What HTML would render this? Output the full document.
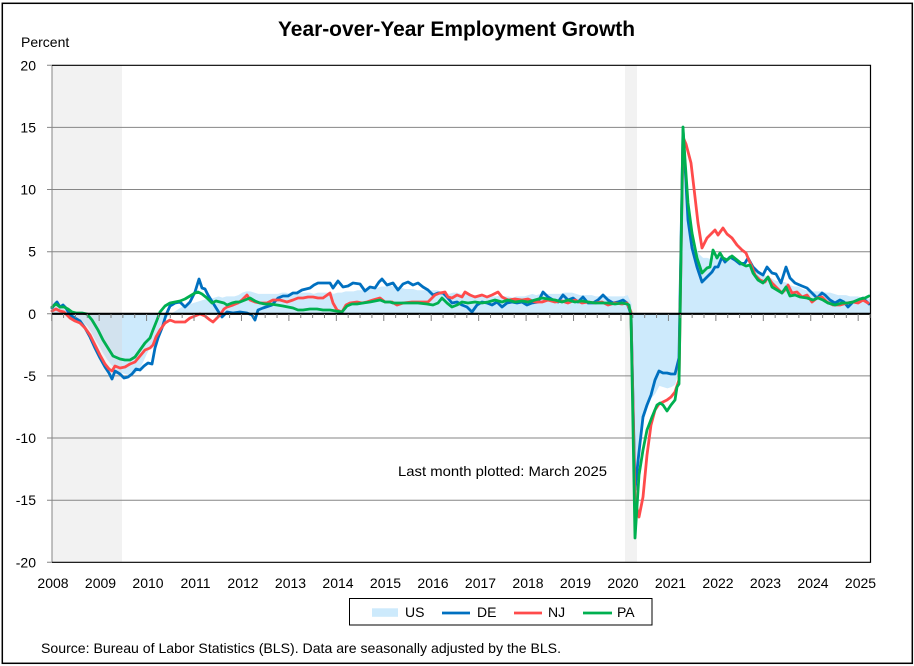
<!DOCTYPE html>
<html>
<head>
<meta charset="utf-8">
<style>
html,body{margin:0;padding:0;background:#fff;}
svg{display:block;}
text{font-family:"Liberation Sans", sans-serif;fill:#000;}
</style>
</head>
<body>
<svg width="914" height="666" viewBox="0 0 914 666" xmlns="http://www.w3.org/2000/svg">
<defs>
<clipPath id="band1"><rect x="52" y="65" width="70" height="498"/></clipPath>
</defs>
<rect x="0" y="0" width="914" height="666" fill="#fff"/>
<rect x="2.3" y="3.3" width="910" height="660" fill="none" stroke="#000" stroke-width="1.5"/>

<!-- recession bands -->
<rect x="52" y="65.3" width="70" height="497" fill="#f2f2f2"/>
<rect x="625" y="65.3" width="12" height="497" fill="#f2f2f2"/>

<!-- gridlines -->
<g stroke="#868686" stroke-width="1" fill="none">
<path d="M47 127.4H870 M47 189.55H870 M47 251.7H870 M47 375.9H870 M47 438.05H870 M47 500.2H870"/>
<path d="M47 65.3H52 M47 313.8H52 M47 562.3H52"/>
</g>

<!-- US area -->
<g transform="translate(51.7,313.8) scale(3.972,-12.425)">
<polygon id="usarea" fill="#cdeafc" points="0,0 0,0.8 1,0.6 2,0.5 3,0.4 4,0.2 5,0 6,-0.2 7,-0.4 8,-0.7 9,-1 10,-1.5 11,-2.1 12,-2.6 13,-3.2 14,-3.7 15,-4.1 16,-4.4 17,-4.7 18,-4.8 19,-4.9 20,-5 21,-4.8 22,-4.5 23,-3.9 24,-3.2 25,-2.6 26,-1.9 27,-1.2 28,-0.6 29,-0.3 30,0 31,0.2 32,0.4 33,0.6 34,0.7 35,0.8 36,0.9 37,1 38,1.1 39,1.2 40,1.2 41,1.3 42,1.4 43,1.3 44,1.4 45,1.4 46,1.4 47,1.5 48,1.7 49,1.8 50,1.8 51,1.7 52,1.6 53,1.6 54,1.6 55,1.6 56,1.6 57,1.6 58,1.7 59,1.7 60,1.6 61,1.7 62,1.6 63,1.7 64,1.7 65,1.7 66,1.6 67,1.7 68,1.7 69,1.7 70,1.7 71,1.6 72,1.7 73,1.7 74,1.8 75,1.8 76,1.8 77,1.9 78,1.9 79,1.9 80,2 81,2 82,2.1 83,2.2 84,2.2 85,2.3 86,2.2 87,2.1 88,2.1 89,2 90,2 91,2 92,1.9 93,1.9 94,1.9 95,1.9 96,1.9 97,1.9 98,1.8 99,1.7 100,1.6 101,1.7 102,1.7 103,1.6 104,1.6 105,1.6 106,1.5 107,1.5 108,1.6 109,1.5 110,1.4 111,1.4 112,1.4 113,1.5 114,1.4 115,1.4 116,1.3 117,1.4 118,1.4 119,1.4 120,1.5 121,1.6 122,1.5 123,1.6 124,1.6 125,1.6 126,1.6 127,1.6 128,1.6 129,1.7 130,1.7 131,1.7 132,1.6 133,1.5 134,1.5 135,1.5 136,1.5 137,1.4 138,1.4 139,1.4 140,1.4 141,1.4 142,1.4 143,1.4 144,1.4 145,1.5 146,0.8 147,-13 148,-11.2 149,-8.6 150,-7.6 151,-6.8 152,-6.4 153,-5.8 154,-5.9 155,-6 156,-5.9 157,-5.7 158,-4.4 159,10.9 160,9.2 161,6 162,5.4 163,4.8 164,4.5 165,4.5 166,4.4 167,4.6 168,4.6 169,4.6 170,4.5 171,4.4 172,4.3 173,4.2 174,4 175,3.8 176,3.7 177,3.5 178,3.4 179,3.2 180,3 181,2.9 182,2.7 183,2.6 184,2.6 185,2.5 186,2.3 187,2.2 188,2.2 189,2 190,1.9 191,1.8 192,1.8 193,1.8 194,1.8 195,1.7 196,1.7 197,1.6 198,1.5 199,1.5 200,1.5 201,1.4 202,1.4 203,1.4 204,1.3 205,1.3 206,1.2 206,0"/>
</g>
<g clip-path="url(#band1)">
<g transform="translate(51.7,313.8) scale(3.972,-12.425)">
<polygon fill="#d2e2ee" points="0,0 0,0.8 1,0.6 2,0.5 3,0.4 4,0.2 5,0 6,-0.2 7,-0.4 8,-0.7 9,-1 10,-1.5 11,-2.1 12,-2.6 13,-3.2 14,-3.7 15,-4.1 16,-4.4 17,-4.7 18,-4.8 19,-4.9 20,-5 21,-4.8 22,-4.5 23,-3.9 24,-3.2 24,0"/>
</g>
</g>

<!-- series -->
<g fill="none" stroke-width="2.8" stroke-linejoin="round" stroke-linecap="round">
<polyline stroke="#0070c0" points="52,308 55,304 57,302 60,307 63,305 66,308 70,315 75,318 80,321 85,328 90,337 95,348 100,358 105,367 109,373 112,379 115,371 120,374 124,378 128,377 132,374 136,369 140,370 144,366 148,363 152,364 155,348 158,338 162,328 166,315 170,306 175,303 180,302 185,307 190,302 195,292 199,279 202,288 205,289 208,295 213,303 218,311 222,317 227,312 233,313 240,312 247,313 252,315 255,320 258,310 263,308 272,305 278,298 283,296 288,296 293,293 297,293 302,290 306,289 310,288 314,285 318,283 324,283 330,283 333,288 338,281 343,287 348,286 353,283 360,284 365,291 370,287 375,288 379,282 382,279 387,285 393,283 398,290 403,284 408,282 413,285 418,283 423,287 428,290 433,295 438,293 443,293 447,297 452,303 457,302 462,305 467,307 472,312 477,305 482,302 487,303 492,305 497,302 502,307 507,303 512,302 517,303 522,302 527,305 532,303 538,302 543,292 548,297 553,300 558,302 563,295 568,300 573,298 578,302 583,297 588,303 593,303 598,300 603,295 608,300 613,303 618,302 623,300 627,303 631,314 635,490 639,452 643,417 647,405 651,395 655,380 659,371 663,373 667,373 671,374 675,374 679,358 683,130 685,165 688,220 692,248 697,267 702,282 707,277 712,272 715,267 718,267 722,257 725,262 730,257 735,260 740,264 745,263 748,258 753,267 758,272 763,275 767,267 772,273 776,274 781,283 786,267 790,278 795,283 802,286 807,288 812,293 817,298 822,293 825,295 830,300 835,303 840,300 844,302 848,307 853,302 858,300 863,298 869,304"/>
<polyline stroke="#ff4b4b" points="52,311 56,309 60,311 64,312 70,318 75,321 80,323 85,328 90,335 95,345 100,355 105,364 109,369 112,371 115,366 120,368 125,367 130,364 135,362 140,356 145,350 150,348 153,345 156,337 160,330 165,323 170,320 175,322 180,322 185,322 190,318 195,316 200,314 205,316 210,320 213,322 217,318 220,315 224,309 227,307 233,305 238,303 242,300 247,295 250,300 255,302 260,303 267,303 273,300 280,300 287,302 293,300 298,298 303,298 308,297 313,297 318,298 323,298 330,293 333,303 337,310 342,312 346,305 350,303 357,302 362,303 367,302 373,300 380,298 385,302 392,302 397,305 403,303 412,302 420,302 428,302 435,295 440,293 445,292 448,297 452,298 457,295 462,297 465,292 470,295 475,297 482,295 487,297 492,295 498,292 502,297 508,300 515,299 522,300 528,299 535,302 542,302 548,300 555,302 562,301 568,303 575,300 582,303 588,302 595,303 602,302 608,305 615,303 622,304 627,303 631,312 635,500 639,517 643,497 647,455 651,425 655,410 659,404 663,402 667,400 671,397 675,392 679,380 683,137 686,144 691,163 695,197 698,223 702,248 707,238 712,233 715,230 718,235 723,228 727,234 732,238 737,245 742,250 746,253 748,258 752,267 755,275 760,280 765,282 768,277 772,283 777,288 782,293 785,290 788,285 792,293 797,292 802,297 807,295 812,302 817,298 822,297 827,302 833,305 840,305 847,303 853,302 858,303 863,300 868,303"/>
<polyline stroke="#00b050" points="52,307 56,304 60,307 64,307 68,309 72,312 76,313 82,313 87,314 92,320 98,330 103,340 108,348 113,356 120,359 125,360 130,360 135,357 140,350 145,343 150,338 153,330 157,320 160,312 165,306 170,303 175,302 180,301 185,299 190,296 195,293 198,292 202,294 207,298 212,303 216,301 220,302 224,303 227,305 232,303 236,302 240,302 245,300 250,298 255,301 260,303 265,304 270,304 277,305 283,306 288,307 293,308 298,310 303,310 310,309 317,309 323,310 330,310 336,311 342,312 347,306 352,304 357,304 363,303 370,302 375,301 380,300 385,302 390,302 393,303 400,303 408,303 418,303 427,304 433,305 438,303 442,298 447,303 452,307 457,305 462,302 468,303 475,302 482,303 488,302 495,300 502,302 508,300 515,302 522,301 528,302 535,300 542,298 548,299 555,300 562,302 568,300 575,302 582,301 588,302 595,303 602,303 608,303 615,304 622,303 627,304 629,305 631,316 635,538 639,475 643,450 647,430 652,417 657,405 660,403 663,405 667,411 671,405 675,400 677,387 679,384 683,127 685,160 688,203 692,233 697,258 702,273 707,268 710,267 713,250 717,258 720,253 723,258 727,260 732,256 737,260 742,264 746,266 750,265 753,273 758,280 763,283 768,277 772,287 777,290 782,293 786,287 790,296 795,295 800,297 807,298 813,300 818,298 823,300 828,303 835,305 842,303 848,303 853,302 860,299 865,298 869,296"/>
</g>

<!-- axes and frame -->
<path d="M52 65.3V562.3" stroke="#868686" stroke-width="1" fill="none"/>
<path d="M52 65.3H870.5V562.3H52" stroke="#000" stroke-width="1.2" fill="none"/>
<path d="M52 313.8H870.5" stroke="#000" stroke-width="2.2" fill="none"/>
<path stroke="#7f7f7f" stroke-width="1" fill="none" d="M51.7 314v7 M99.14 314v7 M146.58 314v7 M194.02 314v7 M241.46 314v7 M288.9 314v7 M336.34 314v7 M383.78 314v7 M431.22 314v7 M478.66 314v7 M526.1 314v7 M573.54 314v7 M620.98 314v7 M668.42 314v7 M715.86 314v7 M763.3 314v7 M810.74 314v7 M858.18 314v7
M63.56 314v4 M75.42 314v4 M87.28 314v4 M111 314v4 M122.86 314v4 M134.72 314v4 M158.44 314v4 M170.3 314v4 M182.16 314v4 M205.88 314v4 M217.74 314v4 M229.6 314v4 M253.32 314v4 M265.18 314v4 M277.04 314v4 M300.76 314v4 M312.62 314v4 M324.48 314v4 M348.2 314v4 M360.06 314v4 M371.92 314v4 M395.64 314v4 M407.5 314v4 M419.36 314v4 M443.08 314v4 M454.94 314v4 M466.8 314v4 M490.52 314v4 M502.38 314v4 M514.24 314v4 M537.96 314v4 M549.82 314v4 M561.68 314v4 M585.4 314v4 M597.26 314v4 M609.12 314v4 M632.84 314v4 M644.7 314v4 M656.56 314v4 M680.28 314v4 M692.14 314v4 M704 314v4 M727.72 314v4 M739.58 314v4 M751.44 314v4 M775.16 314v4 M787.02 314v4 M798.88 314v4 M822.6 314v4 M834.46 314v4 M846.32 314v4 M870 314v4"/>

<!-- title -->
<text x="456.5" y="36" font-size="21" font-weight="bold" text-anchor="middle" textLength="357" lengthAdjust="spacingAndGlyphs">Year-over-Year Employment Growth</text>
<text x="21" y="47" font-size="14">Percent</text>

<!-- y labels -->
<g font-size="14" text-anchor="end">
<text x="36" y="70.3">20</text>
<text x="36" y="132.4">15</text>
<text x="36" y="194.5">10</text>
<text x="36" y="256.7">5</text>
<text x="36" y="318.8">0</text>
<text x="36" y="380.9">-5</text>
<text x="36" y="443">-10</text>
<text x="36" y="505.2">-15</text>
<text x="36" y="567.3">-20</text>
</g>

<!-- x labels -->
<g font-size="14" text-anchor="middle">
<text x="53" y="588">2008</text>
<text x="100.5" y="588">2009</text>
<text x="148" y="588">2010</text>
<text x="195.5" y="588">2011</text>
<text x="243" y="588">2012</text>
<text x="290.5" y="588">2013</text>
<text x="338" y="588">2014</text>
<text x="385.5" y="588">2015</text>
<text x="433" y="588">2016</text>
<text x="480.5" y="588">2017</text>
<text x="528" y="588">2018</text>
<text x="575.5" y="588">2019</text>
<text x="623" y="588">2020</text>
<text x="670.5" y="588">2021</text>
<text x="718" y="588">2022</text>
<text x="765.5" y="588">2023</text>
<text x="813" y="588">2024</text>
<text x="860.5" y="588">2025</text>
</g>

<text x="398" y="476" font-size="14" textLength="209" lengthAdjust="spacingAndGlyphs">Last month plotted: March 2025</text>

<!-- legend -->
<rect x="349.5" y="598.5" width="302.5" height="26.5" fill="#fff" stroke="#000" stroke-width="1"/>
<rect x="372" y="608.3" width="26" height="8.5" fill="#cdeafc"/>
<text x="405" y="617" font-size="14">US</text>
<path d="M442 613H470" stroke="#0070c0" stroke-width="2.8"/>
<text x="477" y="617" font-size="14">DE</text>
<path d="M514 613H542" stroke="#ff4b4b" stroke-width="2.8"/>
<text x="548" y="617" font-size="14">NJ</text>
<path d="M583 613H612" stroke="#00b050" stroke-width="2.8"/>
<text x="617" y="617" font-size="14">PA</text>

<!-- source -->
<text x="41" y="653" font-size="14" textLength="520" lengthAdjust="spacingAndGlyphs">Source: Bureau of Labor Statistics (BLS). Data are seasonally adjusted by the BLS.</text>
</svg>
</body>
</html>
